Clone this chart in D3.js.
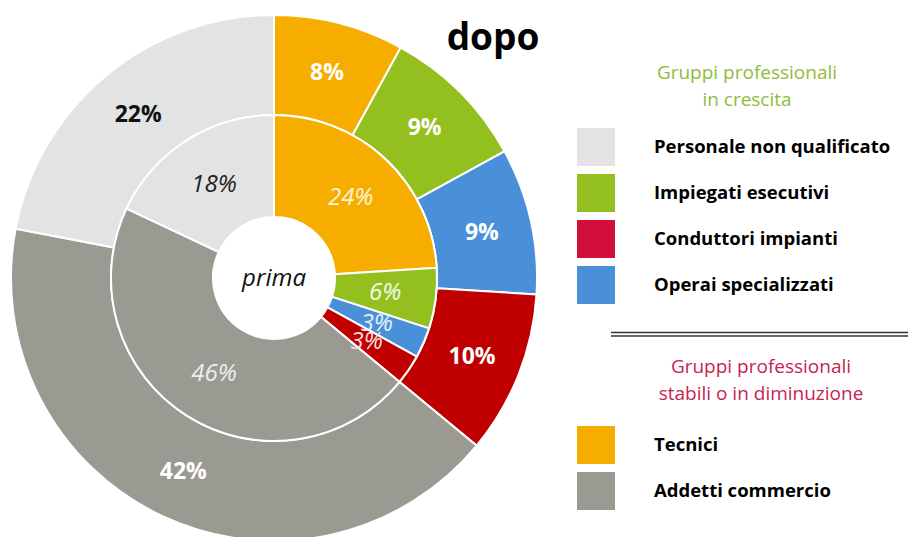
<!DOCTYPE html>
<html>
<head>
<meta charset="utf-8">
<script src="https://cdn.jsdelivr.net/npm/d3@7"></script>
<style>
  body { margin: 0; background: #fff; }
  svg { display: block; font-family: "Open Sans", "Noto Sans", sans-serif; }
</style>
</head>
<body>
<div id="chart"></div>
<script>
// categories, clockwise from 12 o'clock
var categories = ["Tecnici", "Impiegati esecutivi", "Operai specializzati", "Conduttori impianti", "Addetti commercio", "Personale non qualificato"];
var prima = [24, 6, 3, 3, 46, 18];   // inner ring
var dopo  = [8, 9, 9, 10, 42, 22];   // outer ring
var colors = ["#f6ad00", "#93c01f", "#4a90d9", "#c00000", "#9a9992", "#e3e3e3"];

var growingGroup = ["Personale non qualificato", "Impiegati esecutivi", "Conduttori impianti", "Operai specializzati"];
var stableGroup = ["Tecnici", "Addetti commercio"];
var legendColors = {
  "Personale non qualificato": "#e3e3e3",
  "Impiegati esecutivi": "#93c01f",
  "Conduttori impianti": "#d20f3a",
  "Operai specializzati": "#4a90d9",
  "Tecnici": "#f6ad00",
  "Addetti commercio": "#9a9992"
};

var width = 908, height = 537;
var cx = 274, cy = 278;
var r0 = 61, r1 = 163, r2 = 263;

var svg = d3.select("#chart").append("svg")
    .attr("width", width)
    .attr("height", height);

var g = svg.append("g").attr("transform", "translate(" + cx + "," + cy + ")");

var pie = d3.pie().sort(null).value(function(d) { return d; });

var arcIn = d3.arc().innerRadius(r0).outerRadius(r1);
var arcOut = d3.arc().innerRadius(r1).outerRadius(r2);

// outer ring (dopo)
var outer = pie(dopo);
g.selectAll("path.out").data(outer).enter().append("path")
    .attr("class", "out")
    .attr("d", arcOut)
    .attr("fill", function(d, i) { return colors[i]; })
    .attr("stroke", "#fff")
    .attr("stroke-width", 2);

// inner ring (prima)
var inner = pie(prima);
g.selectAll("path.in").data(inner).enter().append("path")
    .attr("class", "in")
    .attr("d", arcIn)
    .attr("fill", function(d, i) { return colors[i]; })
    .attr("stroke", "#fff")
    .attr("stroke-width", 2);

// outer labels, bold
g.selectAll("text.out").data(outer).enter().append("text")
    .attr("class", "out")
    .attr("transform", function(d) { return "translate(" + arcOut.centroid(d) + ")"; })
    .attr("text-anchor", "middle")
    .attr("dy", "0.35em")
    .style("font-size", "23px")
    .style("font-weight", "bold")
    .style("fill", function(d, i) { return i == 5 ? "#111" : "#fff"; })
    .text(function(d) { return d.data + "%"; });

// inner labels, italic
var innerFill = ["#fdf3dc", "#f4f8e6", "#e8f0fa", "#f6dede", "#eeeeee", "#222"];
g.selectAll("text.in").data(inner).enter().append("text")
    .attr("class", "in")
    .attr("transform", function(d) { return "translate(" + arcIn.centroid(d) + ")"; })
    .attr("text-anchor", "middle")
    .attr("dy", "0.35em")
    .style("font-size", "24px")
    .style("font-style", "italic")
    .style("fill", function(d, i) { return innerFill[i]; })
    .text(function(d) { return d.data + "%"; });

g.append("text")
    .attr("text-anchor", "middle")
    .attr("dy", "0.35em")
    .style("font-size", "24px")
    .style("font-style", "italic")
    .style("fill", "#111")
    .text("prima");

svg.append("text")
    .attr("x", 493)
    .attr("y", 50)
    .attr("text-anchor", "middle")
    .style("font-size", "37px")
    .style("font-weight", "bold")
    .style("fill", "#000")
    .text("dopo");

// legend
function header(lines, x, y, color) {
  var t = svg.append("text")
      .attr("x", x)
      .attr("y", y)
      .attr("text-anchor", "middle")
      .style("font-size", "19px")
      .style("fill", color);
  lines.forEach(function(l, i) {
    t.append("tspan").attr("x", x).attr("dy", i == 0 ? 0 : 27).text(l);
  });
}

header(["Gruppi professionali", "in crescita"], 747, 79, "#8dbd3a");
header(["Gruppi professionali", "stabili o in diminuzione"], 761, 373, "#c8234f");

var growY = d3.scalePoint().domain(growingGroup).range([147, 285]);
var stableY = d3.scalePoint().domain(stableGroup).range([445, 491]);

function legendItems(list, yScale) {
  var items = svg.selectAll(null).data(list).enter().append("g")
      .attr("transform", function(d) { return "translate(577," + yScale(d) + ")"; });
  items.append("rect")
      .attr("x", 0)
      .attr("y", -19)
      .attr("width", 38)
      .attr("height", 38)
      .attr("fill", function(d) { return legendColors[d]; });
  items.append("text")
      .attr("x", 77)
      .attr("dy", "0.35em")
      .style("font-size", "18.5px")
      .style("font-weight", "bold")
      .style("fill", "#000")
      .text(function(d) { return d; });
}
legendItems(growingGroup, growY);
legendItems(stableGroup, stableY);

// double separator
svg.append("line").attr("x1", 611).attr("x2", 908).attr("y1", 332.5).attr("y2", 332.5)
    .attr("stroke", "#333").attr("stroke-width", 1.5);
svg.append("line").attr("x1", 611).attr("x2", 908).attr("y1", 336).attr("y2", 336)
    .attr("stroke", "#333").attr("stroke-width", 1.5);
</script>
</body>
</html>
